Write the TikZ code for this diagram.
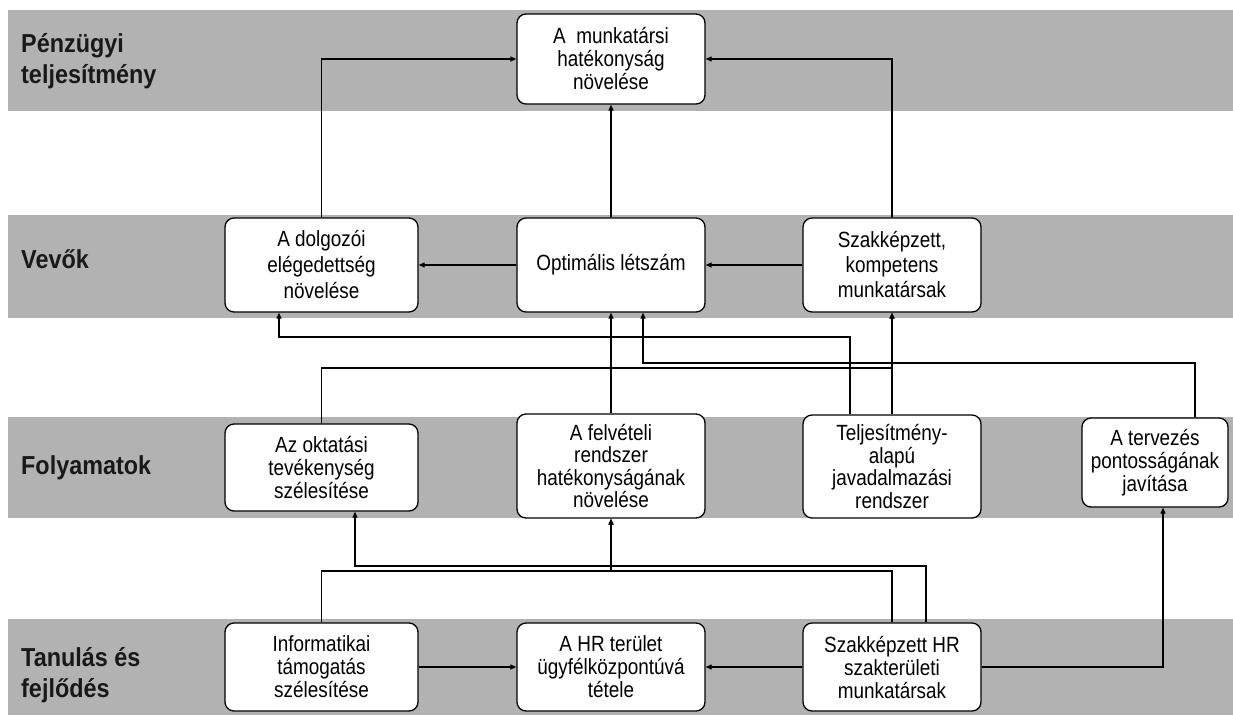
\documentclass[tikz,border=0pt]{standalone}
\usepackage{fontspec}
\setmainfont[FakeStretch=0.86]{Liberation Sans}
\newfontfamily\labfamily[FakeStretch=0.9]{Liberation Sans}
\usetikzlibrary{arrows.meta}
\definecolor{bandgray}{RGB}{178,178,178}
\newcommand\boxfont{\fontsize{22}{23}\selectfont}
\newcommand\labfont{\labfamily\bfseries\fontsize{26}{31}\selectfont}
\begin{document}
\begin{tikzpicture}[x=1pt,y=-1pt,
  band/.style={fill=bandgray,draw=none},
  box/.style={draw=black,line width=1.3pt,rounded corners=9pt,fill=white,align=center,inner sep=0pt,font=\boxfont},
  arr/.style={line width=1.2pt,-{Triangle[length=6pt,width=5pt]}},
  lab/.style={anchor=west,align=left,font=\labfont,inner sep=0pt,text=black!90}]
\useasboundingbox (0,0) rectangle (1233,715);
\fill[white] (0,0) rectangle (1233,715);
% bands
\fill[band] (8,10) rectangle (1233,111);
\fill[band] (8,215) rectangle (1233,318);
\fill[band] (8,417) rectangle (1233,518);
\fill[band] (8,619) rectangle (1233,715);
% labels
\node[lab] (l1) at (21,61) {Pénzügyi\\teljesítmény};
\node[lab] (l2) at (21,259) {Vevők};
\node[lab] (l3) at (21,468) {Folyamatok};
\node[lab] (l4) at (21,675) {Tanulás és\\fejlődés};
% boxes
\node[box,minimum width=188pt,minimum height=90pt] (top) at (611,59) {A\ \ munkatársi\\hatékonyság\\növelése};
\node[box,minimum width=193pt,minimum height=94pt,font=\fontsize{22}{26}\selectfont] (dolg) at (321.5,265) {A dolgozói\\elégedettség\\növelése};
\node[box,minimum width=188pt,minimum height=94pt] (opt) at (611,265) {Optimális létszám};
\node[box,minimum width=178pt,minimum height=94pt,font=\fontsize{22}{25}\selectfont] (szak) at (892,265) {Szakképzett,\\kompetens\\munkatársak};
\node[box,minimum width=193pt,minimum height=87pt] (okt) at (321.5,467.5) {Az oktatási\\tevékenység\\szélesítése};
\node[box,minimum width=188pt,minimum height=104pt,font=\fontsize{22}{22.5}\selectfont] (felv) at (611,466) {A felvételi\\rendszer\\hatékonyságának\\növelése};
\node[box,minimum width=178pt,minimum height=103pt,font=\fontsize{22}{22.5}\selectfont] (telj) at (892,466.5) {Teljesítmény-\\alapú\\javadalmazási\\rendszer};
\node[box,minimum width=146pt,minimum height=89pt] (terv) at (1155,462.5) {A tervezés\\pontosságának\\javítása};
\node[box,minimum width=193pt,minimum height=88pt] (info) at (321.5,667) {Informatikai\\támogatás\\szélesítése};
\node[box,minimum width=188pt,minimum height=88pt] (hr) at (611,667) {A HR terület\\ügyfélközpontúvá\\tétele};
\node[box,minimum width=178pt,minimum height=88pt] (szhr) at (892,667) {Szakképzett HR\\szakterületi\\munkatársak};
% helper coordinates
\coordinate (c279) at (279,337);
\coordinate (c850) at (850,337);
\coordinate (c643) at (643,363);
\coordinate (c1195) at (1195,363);
\coordinate (j368) at (892,368);
\coordinate (b926) at (926,566);
\coordinate (b355) at (355,566);
\coordinate (b611) at (611,571);
\coordinate (b1163) at (1163,667);
% upper connectors
\draw[arr] (dolg.north) |- (top.west);
\draw[arr] (opt.north) -- (top.south);
\draw[arr] (szak.north) |- (top.east);
\draw[arr] (opt.west) -- (dolg.east);
\draw[arr] (szak.west) -- (opt.east);
% middle connectors
\draw[arr] (telj.north -| c850) |- (c279) -- (dolg.south -| c279);
\draw[arr] (terv.north -| c1195) |- (c643) -- (opt.south -| c643);
\draw[arr] (okt.north) |- (j368) -- (szak.south);
\draw[arr] (telj.north) -- (szak.south);
\draw[arr] (felv.north) -- (opt.south);
% lower connectors
\draw[arr] (szhr.north -| b926) |- (b355) -- (okt.south -| b355);
\draw[arr] (szhr.north) |- (b611) -- (felv.south);
\draw[arr] (info.north) |- (b611) -- (felv.south);
\draw[arr] (info.east) -- (hr.west);
\draw[arr] (szhr.west) -- (hr.east);
\draw[arr] (szhr.east) -| (terv.south -| b1163);
\end{tikzpicture}
\end{document}
